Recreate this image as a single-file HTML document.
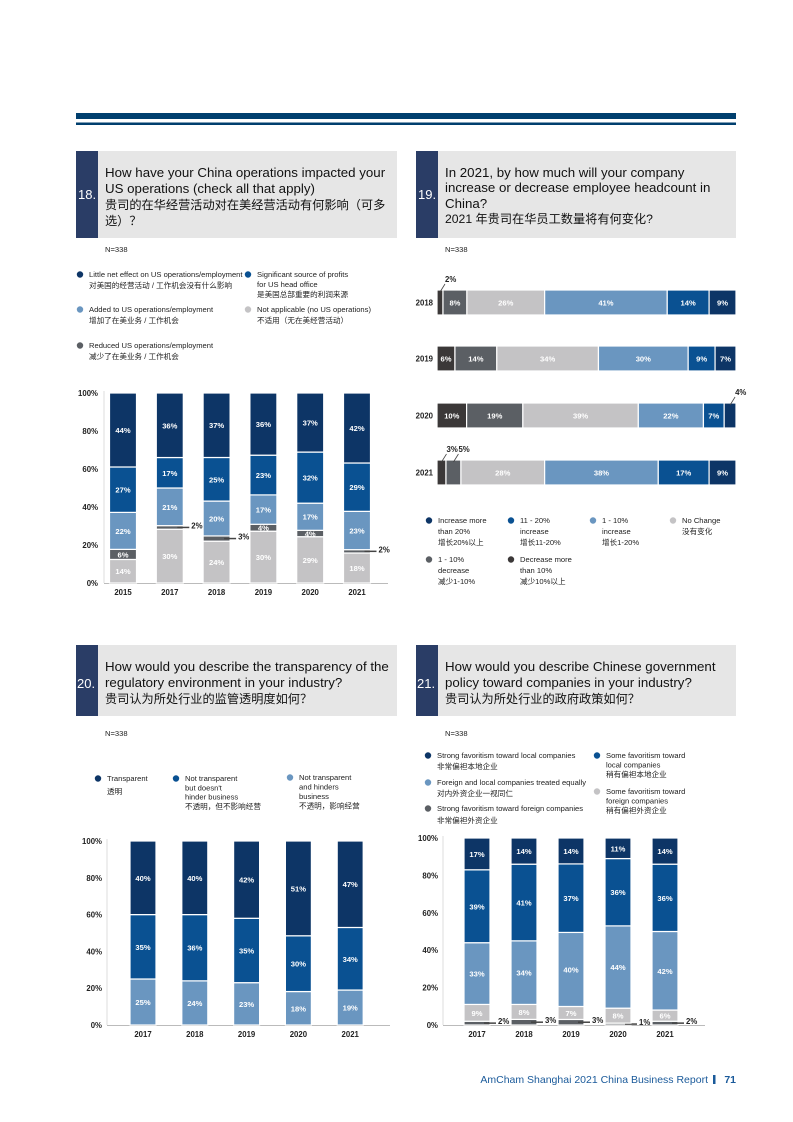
<!DOCTYPE html>
<html><head><meta charset="utf-8">
<style>
html,body{margin:0;padding:0;background:#fff;}
svg{display:block;font-family:"Liberation Sans","Noto Sans CJK SC",sans-serif;}
.t{font-size:13.3px;fill:#111;}
.tc{font-size:12.2px;fill:#111;}
.lg{font-size:7.6px;fill:#222;}
.tk{font-size:7.8px;fill:#222;font-weight:bold;}
.v{font-size:7.6px;fill:#fff;font-weight:bold;}
</style></head>
<body>
<svg id="page" width="793" height="1122" viewBox="0 0 793 1122">
<rect x="76" y="113" width="660" height="6" fill="#003f6e"/>
<rect x="76" y="122.5" width="660" height="2.5" fill="#003f6e"/>

<g>
<rect x="76" y="151" width="321" height="87" fill="#e6e6e6"/>
<rect x="76" y="151" width="22" height="87" fill="#2a3d66"/>
<text x="78" y="199" font-size="13" fill="#fff">18.</text>
<text class="t" x="105" y="177">How have your China operations impacted your</text>
<text class="t" x="105" y="193">US operations (check all that apply)</text>
<text class="tc" x="105" y="209">贵司的在华经营活动对在美经营活动有何影响（可多</text>
<text class="tc" x="105" y="225">选）？</text>
</g>
<g>
<rect x="416" y="151" width="320" height="87" fill="#e6e6e6"/>
<rect x="416" y="151" width="22" height="87" fill="#2a3d66"/>
<text x="418" y="199" font-size="13" fill="#fff">19.</text>
<text class="t" x="445" y="177">In 2021, by how much will your company</text>
<text class="t" x="445" y="192">increase or decrease employee headcount in</text>
<text class="t" x="445" y="208">China?</text>
<text class="tc" x="445" y="223">2021 年贵司在华员工数量将有何变化?</text>
</g>
<g>
<rect x="76" y="645" width="321" height="71" fill="#e6e6e6"/>
<rect x="76" y="645" width="22" height="71" fill="#2a3d66"/>
<text x="77" y="688" font-size="13" fill="#fff">20.</text>
<text class="t" x="105" y="671">How would you describe the transparency of the</text>
<text class="t" x="105" y="687">regulatory environment in your industry?</text>
<text class="tc" x="105" y="703">贵司认为所处行业的监管透明度如何？</text>
</g>
<g>
<rect x="416" y="645" width="320" height="71" fill="#e6e6e6"/>
<rect x="416" y="645" width="22" height="71" fill="#2a3d66"/>
<text x="417" y="688" font-size="13" fill="#fff">21.</text>
<text class="t" x="445" y="671">How would you describe Chinese government</text>
<text class="t" x="445" y="687">policy toward companies in your industry?</text>
<text class="tc" x="445" y="703">贵司认为所处行业的政府政策如何？</text>
</g>
<text class="lg" x="105" y="252">N=338</text>
<text class="lg" x="445" y="252">N=338</text>
<text class="lg" x="105" y="736">N=338</text>
<text class="lg" x="445" y="736">N=338</text>

<g id="c18"></g>
<g id="c19"></g>
<g id="c20"></g>
<g id="c21"></g>
<g id="legends"></g>

<text x="708" y="1083" text-anchor="end" font-size="10.5" fill="#1a5a9a">AmCham Shanghai 2021 China Business Report</text>
<rect x="713" y="1075" width="2.5" height="9" fill="#1a5a9a"/>
<text x="736" y="1083" text-anchor="end" font-size="10.5" font-weight="bold" fill="#1a5a9a">71</text>
</svg>
<script>
const NAVY="#0d3566",MID="#0a5192",LB="#6a96c0",DG="#5b5f64",LG="#c4c3c5",DK="#3b3838";
// Q18 data (bottom -> top): not applicable, reduced, added, significant, little net effect
const c18Years=["2015","2017","2018","2019","2020","2021"];
const c18NotApplicable=[14,30,24,30,29,18];
const c18Reduced=[6,2,3,4,4,2];
const c18Added=[22,21,20,17,17,23];
const c18Significant=[27,17,25,23,32,29];
const c18LittleNet=[44,36,37,36,37,42];
// Q19 data (left -> right)
const c19Years=["2018","2019","2020","2021"];
const c19DecMore10=[2,6,10,3];
const c19Dec1to10=[8,14,19,5];
const c19NoChange=[26,34,39,28];
const c19Inc1to10=[41,30,22,38];
const c19Inc11to20=[14,9,7,17];
const c19IncMore20=[9,7,4,9];
// Q20 data (bottom -> top)
const c20Years=["2017","2018","2019","2020","2021"];
const c20Hinders=[25,24,23,18,19];
const c20NotHinder=[35,36,35,30,34];
const c20Transparent=[40,40,42,51,47];
// Q21 data (bottom -> top)
const c21Years=["2017","2018","2019","2020","2021"];
const c21StrongForeign=[2,3,3,1,2];
const c21SomeForeign=[9,8,7,8,6];
const c21Equal=[33,34,40,44,42];
const c21SomeLocal=[39,41,37,36,36];
const c21StrongLocal=[17,14,14,11,14];
const yTicks=["0%","20%","40%","60%","80%","100%"];

const NS="http://www.w3.org/2000/svg";
function mk(parent,tag,attrs,txt){const e=document.createElementNS(NS,tag);for(const k in attrs)e.setAttribute(k,attrs[k]);if(txt!=null)e.textContent=txt;parent.appendChild(e);return e;}

function vchart(g,cfg){
  const y=v=>cfg.y0-(cfg.y0-cfg.y100)*v/100;
  const x=i=>cfg.x0+i*cfg.step;
  yTicks.forEach((t,i)=>{const e=mk(g,"text",{x:cfg.tx,y:y(i*20)+3,"text-anchor":"end",class:"tk"},t);
    
    });
  const ax=mk(g,"line",{x1:cfg.ax1,x2:cfg.ax2,y1:cfg.y0+0.5,y2:cfg.y0+0.5,stroke:"#bbb","stroke-width":1});
  
  
  const ay=mk(g,"line",{x1:cfg.ax1,x2:cfg.ax1,y1:cfg.y100-2,y2:cfg.y0,stroke:"#ddd","stroke-width":1});
  
  
  cfg.cats.forEach((c,i)=>{
    const tot=cfg.series.reduce((s,se)=>s+se.d[i],0);
    let acc=0;
    const cx=x(i);
    cfg.series.forEach(se=>{
      const v=se.d[i];const y1=y((acc+v)/tot*100),y2=y(acc/tot*100);acc+=v;
      const r=mk(g,"rect",{x:cx-cfg.w/2,y:y1,width:cfg.w,height:Math.max(0,y2-y1),fill:se.c,stroke:"#fff","stroke-width":1.2});
      
      
      if(v<cfg.outside){
        const my=(y1+y2)/2;
        const l=mk(g,"polyline",{points:(cx+cfg.w/2-6)+","+my+" "+(cx+cfg.w/2+6)+","+my,stroke:"#444","stroke-width":1.5,fill:"none"});
        
        
        const t=mk(g,"text",{x:cx+cfg.w/2+8,y:my+1,class:"tk","font-weight":"normal"},v+"%");
        
        
      } else {
        const t=mk(g,"text",{x:cx,y:(y1+y2)/2+3,"text-anchor":"middle",class:"v"},v+"%");
        
        
      }
    });
    const t=mk(g,"text",{x:cx,y:cfg.y0+12,"text-anchor":"middle",class:"tk"},c);
    
    
  });
}
vchart(document.getElementById("c18"),{cats:c18Years,x0:123,step:46.8,w:27,y0:583,y100:393,tx:98,ax1:104,ax2:388,outside:4,
 series:[{n:"not-applicable",c:LG,d:c18NotApplicable},{n:"reduced",c:DG,d:c18Reduced},{n:"added",c:LB,d:c18Added},{n:"significant",c:MID,d:c18Significant},{n:"little-net",c:NAVY,d:c18LittleNet}]});
vchart(document.getElementById("c20"),{cats:c20Years,x0:143,step:51.8,w:26,y0:1025,y100:841,tx:102,ax1:107,ax2:390,outside:4,
 series:[{n:"hinders",c:LB,d:c20Hinders},{n:"not-hinder",c:MID,d:c20NotHinder},{n:"transparent",c:NAVY,d:c20Transparent}]});
vchart(document.getElementById("c21"),{cats:c21Years,x0:477,step:47,w:26,y0:1025,y100:838,tx:438,ax1:443,ax2:705,outside:4,
 series:[{n:"strong-foreign",c:DG,d:c21StrongForeign},{n:"some-foreign",c:LG,d:c21SomeForeign},{n:"equal",c:LB,d:c21Equal},{n:"some-local",c:MID,d:c21SomeLocal},{n:"strong-local",c:NAVY,d:c21StrongLocal}]});

// Q19 horizontal
(function(){
  const g=document.getElementById("c19");
  const series=[{n:"dec-more-10",c:DK,d:c19DecMore10},{n:"dec-1-10",c:DG,d:c19Dec1to10},{n:"no-change",c:LG,d:c19NoChange},{n:"inc-1-10",c:LB,d:c19Inc1to10},{n:"inc-11-20",c:MID,d:c19Inc11to20},{n:"inc-more-20",c:NAVY,d:c19IncMore20}];
  const X0=437,X1=736,rowY=[290,346,403,460],H=25;
  const x=v=>X0+(X1-X0)*v/100;
  c19Years.forEach((yr,i)=>{
    const tot=series.reduce((s,se)=>s+se.d[i],0);let acc=0;
    const t=mk(g,"text",{x:433,y:rowY[i]+H/2+3,"text-anchor":"end",class:"tk"},yr);
    
    
    series.forEach(se=>{
      const v=se.d[i];const a=x(acc/tot*100),b=x((acc+v)/tot*100);acc+=v;
      const r=mk(g,"rect",{x:a,y:rowY[i],width:b-a,height:H,fill:se.c,stroke:"#fff","stroke-width":1.2});
      
      
      const m=(a+b)/2;
      if(v<6){
        const l=mk(g,"line",{x1:m,y1:rowY[i]+2,x2:m+5,y2:rowY[i]-6,stroke:"#444","stroke-width":0.8});
        
        
        const tt=mk(g,"text",{x:m+5,y:rowY[i]-8,class:"tk","font-weight":"normal"},v+"%");
        
        
      } else {
        const tt=mk(g,"text",{x:m,y:rowY[i]+H/2+3,"text-anchor":"middle",class:"v"},v+"%");
        
        
      }
    });
  });
})();

// Legends
(function(){
  const g=document.getElementById("legends");
  const items=[
   [80,277,NAVY,["Little net effect on US operations/employment","对美国的经营活动 / 工作机会没有什么影响"],11],
   [248,277,MID,["Significant source of profits","for US head office","是美国总部重要的利润来源"],10],
   [80,312,LB,["Added to US operations/employment","增加了在美业务 / 工作机会"],11],
   [248,312,LG,["Not applicable (no US operations)","不适用（无在美经营活动）"],11],
   [80,348,DG,["Reduced US operations/employment","减少了在美业务 / 工作机会"],11],
   [429,523,NAVY,["Increase more","than 20%","增长20%以上"],11],
   [511,523,MID,["11 - 20%","increase","增长11-20%"],11],
   [593,523,LB,["1 - 10%","increase","增长1-20%"],11],
   [673,523,LG,["No Change","没有变化"],11],
   [429,562,DG,["1 - 10%","decrease","减少1-10%"],11],
   [511,562,DK,["Decrease more","than 10%","减少10%以上"],11],
   [98,781,NAVY,["Transparent","透明"],13],
   [176,781,MID,["Not transparent","but doesn't","hinder business","不透明，但不影响经营"],9.3],
   [290,780,LB,["Not transparent","and hinders","business","不透明，影响经营"],9.5],
   [428,758,NAVY,["Strong favoritism toward local companies","非常偏袒本地企业"],11],
   [597,758,MID,["Some favoritism toward","local companies","稍有偏袒本地企业"],9.5],
   [428,785,LB,["Foreign and local companies treated equally","对内外资企业一视同仁"],11],
   [597,794,LG,["Some favoritism toward","foreign companies","稍有偏袒外资企业"],9.5],
   [428,811,DG,["Strong favoritism toward foreign companies","非常偏袒外资企业"],12]
  ];
  items.forEach(it=>{
    const [x,y,c,lines,lh]=it;
    const d=mk(g,"circle",{cx:x,cy:y-2.5,r:3.2,fill:c});
    
    
    lines.forEach((s,j)=>{
      const t=mk(g,"text",{x:x+9,y:y+j*lh,class:"lg"},s);
      
      
    });
  });
})();
</script>
</body></html>
